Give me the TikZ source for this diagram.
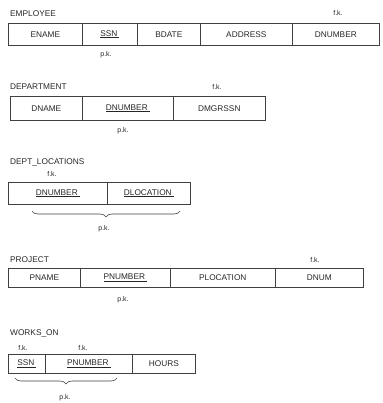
\documentclass[tikz,border=0pt]{standalone}
\usepackage{fontspec}
\setmainfont{Liberation Sans}
\usetikzlibrary{decorations.pathreplacing}
\begin{document}
\begin{tikzpicture}[x=1pt,y=-1pt,
  txt/.style={font=\fontsize{8.3}{10}\selectfont, text=black!85, inner sep=0pt},
  title/.style={txt, anchor=west},
  keylbl/.style={font=\fontsize{7}{8}\selectfont, text=black!85, inner sep=0pt},
  cell/.style={txt, draw=black!75, line width=0.6pt, anchor=north west, minimum height=#1},
  cell/.default=22pt,
  kbrace/.style={draw=black!75, line width=0.6pt, decorate, decoration={brace, amplitude=6pt}}]
\useasboundingbox (0,0) rectangle (382,403);
\newcommand{\ul}[1]{\underline{#1\hspace{2pt}}}

% EMPLOYEE
\node[title] (empT) at (10,14) {EMPLOYEE};
\node[cell=22pt, minimum width=74pt] (eName) at (8,23) {ENAME};
\node[cell=22pt, minimum width=55pt] (eSsn) at (82,23) {\ul{SSN}};
\node[cell=22pt, minimum width=63pt] (eBdate) at (137,23) {BDATE};
\node[cell=22pt, minimum width=92pt] (eAddr) at (200,23) {ADDRESS};
\node[cell=22pt, minimum width=87pt] (eDnum) at (292,23) {DNUMBER};
\node[keylbl] (eFk) at (338,13) {f.k.};
\node[keylbl] (ePk) at (106,55) {p.k.};

% DEPARTMENT
\node[title] (depT) at (10,87) {DEPARTMENT};
\node[cell=24pt, minimum width=72pt] (dName) at (10,96) {DNAME};
\node[cell=24pt, minimum width=91pt] (dNum) at (82,96) {\ul{DNUMBER}};
\node[cell=24pt, minimum width=92pt] (dMgr) at (173,96) {DMGRSSN};
\node[keylbl] (dFk) at (217,87) {f.k.};
\node[keylbl] (dPk) at (123,131) {p.k.};

% DEPT_LOCATIONS
\node[title] (dlT) at (10,162) {DEPT\_LOCATIONS};
\node[keylbl] (dlFk) at (52,174) {f.k.};
\node[cell=22pt, minimum width=99pt] (dlNum) at (8,182) {\ul{DNUMBER}};
\node[cell=22pt, minimum width=83pt] (dlLoc) at (107,182) {\ul{DLOCATION}};
\coordinate (dlBl) at (32,211);
\coordinate (dlBr) at (180,211);
\draw[kbrace] (dlBr) -- (dlBl);
\node[keylbl] (dlPk) at (104,229) {p.k.};

% PROJECT
\node[title] (prT) at (10,260) {PROJECT};
\node[cell=19pt, minimum width=72pt] (pName) at (8,268) {PNAME};
\node[cell=19pt, minimum width=90pt] (pNum) at (80,268) {\ul{PNUMBER}};
\node[cell=19pt, minimum width=105pt] (pLoc) at (170,268) {PLOCATION};
\node[cell=19pt, minimum width=88pt] (pDnum) at (275,268) {DNUM};
\node[keylbl] (pFk) at (315,260) {f.k.};
\node[keylbl] (pPk) at (123,300) {p.k.};

% WORKS_ON
\node[title] (wT) at (10,333) {WORKS\_ON};
\node[keylbl] (wFk1) at (23,348) {f.k.};
\node[keylbl] (wFk2) at (83,348) {f.k.};
\node[cell=19pt, minimum width=37pt] (wSsn) at (8,354) {\ul{SSN}};
\node[cell=19pt, minimum width=87pt] (wPnum) at (45,354) {\ul{PNUMBER}};
\node[cell=19pt, minimum width=63pt] (wHours) at (132,354) {HOURS};
\coordinate (wBl) at (15,378);
\coordinate (wBr) at (117,378);
\draw[kbrace] (wBr) -- (wBl);
\node[keylbl] (wPk) at (65,398) {p.k.};
\end{tikzpicture}
\end{document}
